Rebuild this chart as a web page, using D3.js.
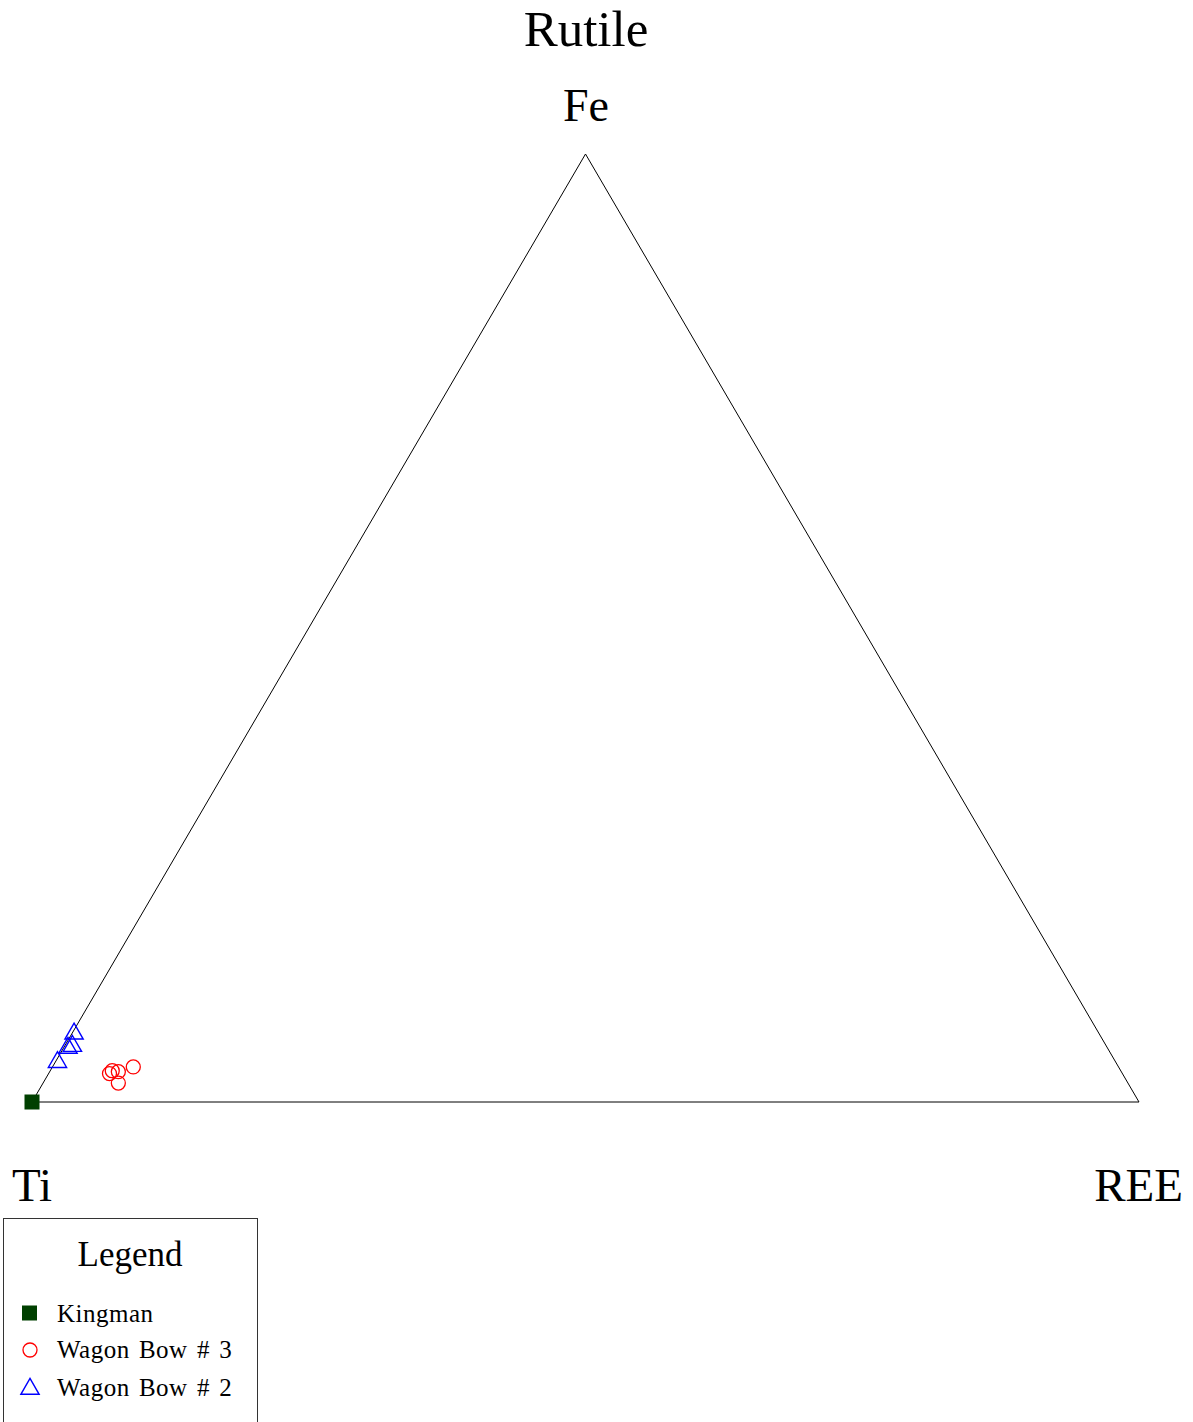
<!DOCTYPE html>
<html>
<head>
<meta charset="utf-8">
<script src="https://cdn.jsdelivr.net/npm/d3@7"></script>
<style>
  html, body { margin: 0; padding: 0; background: #fff; }
  svg { display: block; font-family: "Liberation Serif", "Times New Roman", serif; }
</style>
</head>
<body>
<svg id="chart" width="1193" height="1422"></svg>
<script>
// Ternary composition (fractions): Ti, Fe, REE for each sample group
const seriesNames = ["Kingman", "Wagon Bow # 3", "Wagon Bow # 2"];

const kingmanTi  = [1.000];
const kingmanFe  = [0.000];
const kingmanREE = [0.000];

const wb3Ti  = [0.915, 0.911, 0.906, 0.890, 0.912];
const wb3Fe  = [0.030, 0.033, 0.032, 0.037, 0.020];
const wb3REE = [0.055, 0.056, 0.062, 0.073, 0.068];

const wb2Ti  = [0.926, 0.939, 0.934, 0.956];
const wb2Fe  = [0.072, 0.057, 0.059, 0.042];
const wb2REE = [0.002, 0.004, 0.007, 0.002];

const vertexLabels = { top: "Fe", left: "Ti", right: "REE" };
const chartTitle = "Rutile";

const svg = d3.select("#chart");

// Scales: horizontal position from REE + Fe/2, vertical from Fe
const xScale = d3.scaleLinear().domain([0, 1]).range([32, 1139]);
const yScale = d3.scaleLinear().domain([0, 1]).range([1102, 154]);
const project = (ti, fe, ree) => {
  const s = ti + fe + ree;
  const f = fe / s, r = ree / s;
  return [xScale(r + f / 2), yScale(f)];
};

// Triangle frame
const corners = [project(1, 0, 0), project(0, 0, 1), project(0, 1, 0)];
svg.append("path")
  .attr("d", d3.line()(corners) + "Z")
  .attr("fill", "none")
  .attr("stroke", "#000")
  .attr("stroke-width", 1);

// Title and vertex labels
svg.append("text").attr("x", 586).attr("y", 46).attr("text-anchor", "middle")
  .attr("font-size", 51).text(chartTitle);
svg.append("text").attr("x", 586).attr("y", 121).attr("text-anchor", "middle")
  .attr("font-size", 46).text(vertexLabels.top);
svg.append("text").attr("x", 12).attr("y", 1201).attr("text-anchor", "start")
  .attr("font-size", 47).text(vertexLabels.left);
svg.append("text").attr("x", 1183).attr("y", 1201).attr("text-anchor", "end")
  .attr("font-size", 47).text(vertexLabels.right);

const zip = (a, b, c) => a.map((v, i) => [v, b[i], c[i]]);

// Wagon Bow # 3: open red circles
svg.append("g").selectAll("circle")
  .data(zip(wb3Ti, wb3Fe, wb3REE))
  .join("circle")
  .attr("cx", d => project(...d)[0])
  .attr("cy", d => project(...d)[1])
  .attr("r", 7)
  .attr("fill", "none")
  .attr("stroke", "#ff0000")
  .attr("stroke-width", 1.3);

// Wagon Bow # 2: open blue triangles
const triPath = d3.symbol().type(d3.symbolTriangle).size(145);
svg.append("g").selectAll("path")
  .data(zip(wb2Ti, wb2Fe, wb2REE))
  .join("path")
  .attr("transform", d => { const p = project(...d); return `translate(${p[0]},${p[1]})`; })
  .attr("d", triPath)
  .attr("fill", "none")
  .attr("stroke", "#0000ff")
  .attr("stroke-width", 1.4);

// Kingman: filled dark green squares
svg.append("g").selectAll("rect")
  .data(zip(kingmanTi, kingmanFe, kingmanREE))
  .join("rect")
  .attr("x", d => project(...d)[0] - 7.5)
  .attr("y", d => project(...d)[1] - 7.5)
  .attr("width", 15)
  .attr("height", 15)
  .attr("fill", "#004000");

// Legend
const legend = svg.append("g");
legend.append("rect")
  .attr("x", 3.5).attr("y", 1218.5).attr("width", 254).attr("height", 220)
  .attr("fill", "none").attr("stroke", "#333").attr("stroke-width", 1);
legend.append("text").attr("x", 130).attr("y", 1266).attr("text-anchor", "middle")
  .attr("font-size", 35).text("Legend");

const rowY = [1313, 1350, 1389];
const textY = [1322, 1358, 1396];
legend.selectAll("text.item")
  .data(seriesNames)
  .join("text")
  .attr("class", "item")
  .attr("x", 57)
  .attr("y", (d, i) => textY[i])
  .attr("font-size", 25)
  .attr("letter-spacing", 0.5)
  .attr("word-spacing", 2.5)
  .text(d => d);

legend.append("rect").attr("x", 22).attr("y", rowY[0] - 7.5)
  .attr("width", 15).attr("height", 15).attr("fill", "#004000");
legend.append("circle").attr("cx", 30).attr("cy", rowY[1]).attr("r", 7)
  .attr("fill", "none").attr("stroke", "#ff0000").attr("stroke-width", 1.3);
legend.append("path").attr("transform", `translate(30,${rowY[2]})`)
  .attr("d", triPath).attr("fill", "none").attr("stroke", "#0000ff").attr("stroke-width", 1.4);
</script>
</body>
</html>
